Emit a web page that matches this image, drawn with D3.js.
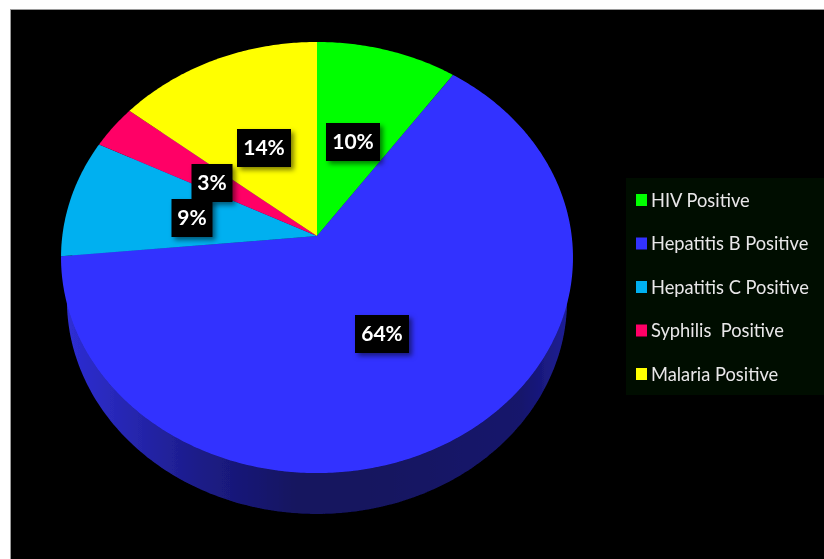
<!DOCTYPE html>
<html><head><meta charset="utf-8">
<script src="https://cdn.jsdelivr.net/npm/d3@7"></script>
<style>html,body{margin:0;padding:0;background:#fff;overflow:hidden}svg{display:block}</style>
</head><body><svg id="c" width="824" height="559"></svg>
<script>
const categories = ["HIV Positive","Hepatitis B Positive","Hepatitis C Positive","Syphilis  Positive","Malaria Positive"];
const values = [9.8,63.7,8.9,3.3,14.3];
const colors = ["#00ff00","#3333ff","#00b0f0","#ff0066","#ffff00"];
const labelPos = [[353,142],[382,334],[192,218],[212,183],[264,148]];

const svg = d3.select("#c");
const defs = svg.append("defs");
const blur = defs.append("filter").attr("id","soft").attr("x","-40%").attr("y","-40%").attr("width","180%").attr("height","180%");
blur.append("feGaussianBlur").attr("stdDeviation",0.5);
const sh = defs.append("filter").attr("id","shadow").attr("x","-40%").attr("y","-40%").attr("width","190%").attr("height","190%");
sh.append("feDropShadow").attr("dx",3).attr("dy",3).attr("stdDeviation",2.4).attr("flood-color","#000").attr("flood-opacity",0.5);
const g = defs.append("linearGradient").attr("id","wall").attr("gradientUnits","userSpaceOnUse").attr("x1",61).attr("x2",573).attr("y1",0).attr("y2",0);
[[0,"#2e2ed8"],[0.08,"#2a2ac0"],[0.27,"#1c1c88"],[0.46,"#13135f"],[0.6,"#13135f"],[0.9,"#15156c"],[1,"#20209a"]].forEach(s=>g.append("stop").attr("offset",s[0]).attr("stop-color",s[1]));

svg.append("rect").attr("x",10.5).attr("y",9.5).attr("width",830).attr("height",570).attr("fill","#000").attr("stroke","#9a9a9a").attr("stroke-width",1);

const cx=317, cy=236, a=254.7, b=213.4, k=0.0998;
const wallScaleX=0.977, wallScaleY=0.993, wallDrop=42.6;
const project = t => { const x=Math.sin(t), y=Math.cos(t), w=1+k*y; return [cx+a*x/w, cy-b*y/w]; };
const line = d3.line();
const root = svg.append("g").attr("filter","url(#soft)");

// side wall: lower rim of the disc, seen behind the top face
const lower = d3.range(0,360,1).map(d=>{
  const p=project(d*Math.PI/180);
  return [cx+(p[0]-cx)*wallScaleX, cy+(p[1]-cy)*wallScaleY+wallDrop];
});
root.append("path").attr("d",line(lower)+"Z").attr("fill","url(#wall)");

// top face
const arcs = d3.pie().sort(null).value(d=>d)(values);
root.selectAll("path.s").data(arcs).join("path").attr("class","s")
  .attr("fill",(d,i)=>colors[i])
  .attr("d",d=>{
    const n=Math.max(8,Math.ceil((d.endAngle-d.startAngle)*90));
    const pts=d3.range(n+1).map(i=>project(d.startAngle+(d.endAngle-d.startAngle)*i/n));
    return line([[cx,cy],...pts])+"Z";
  });

// data labels
const fmt = v => Math.round(v)+"%";
const lab = svg.append("g").attr("font-family","Lato, sans-serif").attr("font-weight",700).attr("font-size",21).attr("filter","url(#soft)");
const order=[3,2,0,1,4];
order.forEach(i=>{
  const t=fmt(values[i]), w=t.length>2?54:41, h=38, [x,y]=labelPos[i];
  lab.append("rect").attr("x",x-w/2).attr("y",y-h/2).attr("width",w).attr("height",h).attr("fill","#000").attr("filter","url(#shadow)");
  lab.append("text").attr("x",x).attr("y",y+7).attr("text-anchor","middle").attr("fill","#fff").text(t);
});

// legend
const leg = svg.append("g").attr("filter","url(#soft)");
leg.append("rect").attr("x",626).attr("y",178).attr("width",210).attr("height",217).attr("fill","#030a03");
const ly = d3.scalePoint().domain(categories).range([200,374]);
categories.forEach((c,i)=>{
  leg.append("rect").attr("x",636).attr("y",ly(c)-6).attr("width",11).attr("height",12).attr("fill",colors[i]);
  leg.append("text").attr("x",651).attr("y",ly(c)+6.5).attr("font-family","Lato, sans-serif").attr("font-size",18.3).attr("fill","#e8e8e8").style("white-space","pre").text(c);
});
</script></body></html>
